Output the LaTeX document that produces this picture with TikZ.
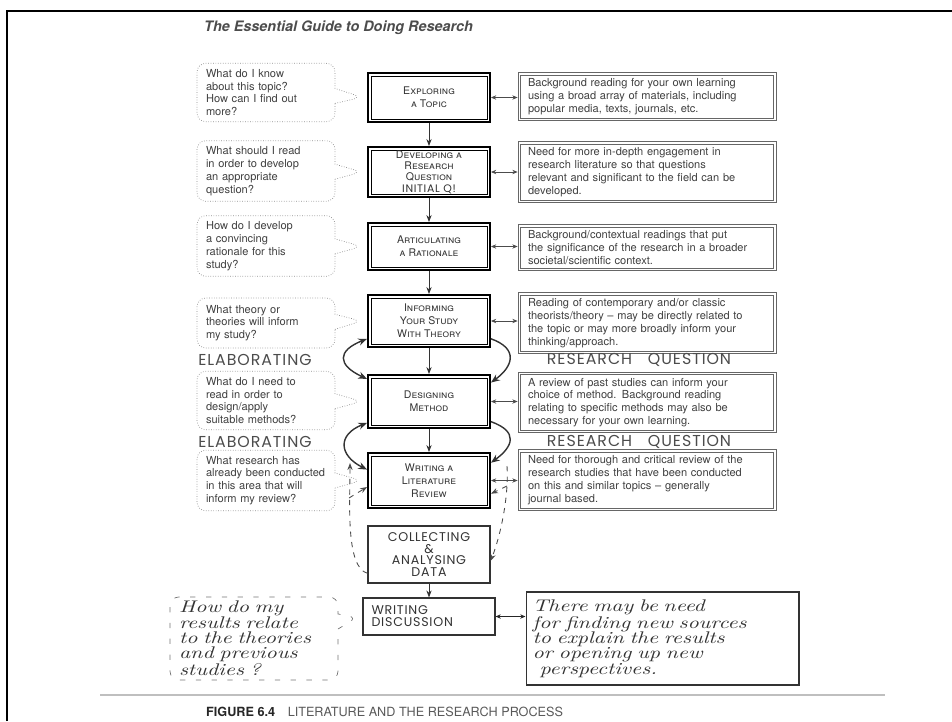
\documentclass[tikz,border=0pt]{standalone}
\usepackage{fontspec}
\setmainfont{TeX Gyre Heros}
\newfontfamily\handcaps{Poppins}[LetterSpace=6]
\newfontfamily\handcurs{lmroman10-italic.otf}[FakeStretch=1.3]
\usetikzlibrary{arrows.meta,positioning,shapes.callouts}

\tikzset{
  stage/.style={draw, line width=1.1pt, minimum width=2.44cm, align=center, inner sep=2pt,
    font=\fontsize{6}{7.4}\selectfont\scshape, text=black!80,
    path picture={\draw[line width=0.4pt] ([shift={(1.7pt,1.7pt)}]path picture bounding box.south west) rectangle ([shift={(-1.7pt,-1.7pt)}]path picture bounding box.north east);}},
  note/.style={draw=black!60, line width=0.5pt, minimum width=5.16cm, text width=4.76cm, inner xsep=0.2cm,
    align=left, font=\fontsize{6.3}{7.3}\selectfont, text=black!75,
    path picture={\draw[black!60, line width=0.3pt] ([shift={(1.4pt,1.4pt)}]path picture bounding box.south west) rectangle ([shift={(-1.4pt,-1.4pt)}]path picture bounding box.north east);}},
  ask/.style={rectangle callout, draw=black!45, densely dotted, rounded corners=5pt, minimum width=2.76cm,
    text width=2.4cm, inner xsep=0.18cm, align=left, font=\fontsize{6.3}{7.3}\selectfont, text=black!75,
    callout pointer width=0.3cm, callout pointer shorten=3pt},
  handbox/.style={draw=black!80, line width=0.6pt, font=\handcaps\fontsize{7.2}{6.8}\selectfont, text=black!80},
  hand/.style={font=\handcaps\fontsize{9}{10}\selectfont, text=black!70},
  curs/.style={font=\handcurs\fontsize{9.6}{8.7}\selectfont, text=black!80},
  flow/.style={-{Stealth[length=4pt,width=3pt]}, line width=0.5pt, black!80},
  link/.style={{Stealth[length=3pt,width=2.5pt]}-{Stealth[length=3pt,width=2.5pt]}, line width=0.4pt, black!70},
  backarc/.style={line width=0.8pt, black!80, >={Stealth[length=5pt,width=4pt]}},
  dashback/.style={dashed, line width=0.5pt, black!70, >={Stealth[length=4pt,width=3pt]}}
}

\begin{document}
\begin{tikzpicture}[x=0.02cm,y=-0.02cm]
\useasboundingbox (0,0) rectangle (952,721);
\draw[line width=1.7pt] (7,721) -- (7,11) -- (952,11);

\node[anchor=west, font=\fontsize{8.2}{9}\selectfont\bfseries\itshape, text=black!70] (title) at (198,28) {The Essential Guide to Doing Research};

\node[stage, minimum height=0.98cm] (b1) at (429,97.5) {Exploring\\a Topic};
\node[stage, minimum height=1.0cm, font=\fontsize{6}{6.5}\selectfont\scshape, inner ysep=1pt] (b2) at (429,172) {Developing a\\Research\\Question\\{\handcaps\fontsize{6.2}{6.5}\selectfont INITIAL Q!}};
\node[stage, minimum height=0.94cm] (b3) at (429,246.5) {Articulating\\a Rationale};
\node[stage, minimum height=1.04cm] (b4) at (429,321) {Informing\\Your Study\\With Theory};
\node[stage, minimum height=1.06cm] (b5) at (429,401.5) {Designing\\Method};
\node[stage, minimum height=1.1cm] (b6) at (429,480.5) {Writing a\\Literature\\Review};

\foreach \i/\j in {1/2,2/3,3/4,4/5,5/6}{
\draw[flow] (b\i) -- (b\j);
}

\node[note, minimum height=0.86cm] (r1) at (647,96.5) {Background reading for your own learning\\using a broad array of materials, including\\popular media, texts, journals, etc.};
\node[note, minimum height=1.0cm] (r2) at (647,172) {Need for more in-depth engagement in\\research literature so that questions\\relevant and significant to the field can be\\developed.};
\node[note, minimum height=0.82cm] (r3) at (647,247.5) {Background/contextual readings that put\\the significance of the research in a broader\\societal/scientific context.};
\node[note, minimum height=1.0cm] (r4) at (647,323) {Reading of contemporary and/or classic\\theorists/theory -- may be directly related to\\the topic or may more broadly inform your\\thinking/approach.};
\node[note, minimum height=1.02cm] (r5) at (647,402.5) {A review of past studies can inform your\\choice of method. Background reading\\relating to specific methods may also be\\necessary for your own learning.};
\node[note, minimum height=1.08cm] (r6) at (647,480) {Need for thorough and critical review of the\\research studies that have been conducted\\on this and similar topics -- generally\\journal based.};

\foreach \i in {1,...,6}{
\draw[link] (b\i.east) -- (b\i.east -| r\i.west);
}

\node[ask, minimum height=1.1cm, callout absolute pointer={(b1.west)}] (q1) at (266,92.5) {What do I know\\about this topic?\\How can I find out\\more?};
\node[ask, minimum height=1.04cm, callout absolute pointer={(b2.west)}] (q2) at (266,171) {What should I read\\in order to develop\\an appropriate\\question?};
\node[ask, minimum height=1.16cm, callout absolute pointer={(b3.west)}] (q3) at (266,246) {How do I develop\\a convincing\\rationale for this\\study?};
\node[ask, minimum height=1.0cm, callout absolute pointer={(b4.west)}] (q4) at (266,323) {What theory or\\theories will inform\\my study?};
\node[ask, minimum height=1.1cm, callout absolute pointer={(b5.west)}] (q5) at (266,400.5) {What do I need to\\read in order to\\design/apply\\suitable methods?};
\node[ask, minimum height=1.1cm, callout absolute pointer={(b6.west)}] (q6) at (266,480.5) {What research has\\already been conducted\\in this area that will\\inform my review?};

\node[hand] (el1) at (255,360) {ELABORATING};
\node[hand] (rq1) at (639,360) {RESEARCH\quad QUESTION};
\node[hand] (el2) at (255,442) {ELABORATING};
\node[hand] (rq2) at (639,442) {RESEARCH\quad QUESTION};

\draw[backarc,<->] (b4.196) .. controls +(-30,12) and +(-30,-14) .. (b5.160);
\draw[backarc,->] (b4.344) .. controls +(28,10) and +(22,-16) .. (b5.17);
\draw[backarc,<->] (b5.199) .. controls +(-30,12) and +(-28,-14) .. (b6.170);
\draw[backarc,->] (b5.342) .. controls +(28,10) and +(22,-16) .. (b6.16);

\node[handbox, minimum width=2.44cm, minimum height=1.14cm, align=center] (coll) at (429,554.5) {COLLECTING\\\&\\ANALYSING\\DATA};
\node[handbox, minimum width=2.64cm, minimum height=0.74cm, align=left, text width=2.3cm] (disc) at (429,616.5) {WRITING\\DISCUSSION};
\draw[flow] (coll) -- (disc);

\coordinate (up6) at (350,463);
\coordinate (dj) at (349,498);
\coordinate (rd) at (507,466);
\coordinate (rj) at (507,486);
\draw[dashback,->] (coll.197) .. controls +(-22,-6) and +(0,40) .. (up6);
\draw[dashback,->] (dj) -- (b6.186);
\draw[dashback,->] (rd) .. controls +(2,30) and +(10,-25) .. (coll.354);
\draw[dashback,->] (rj) -- (b6.348);

\node[handbox, curs, minimum width=5.46cm, text width=5.2cm, minimum height=1.86cm, align=left] (rh) at (662.5,638.5) {There may be need\\for finding new sources\\to explain the results\\or opening up new\\\hspace*{4pt}perspectives.};
\draw[link, line width=0.6pt, black!85] (disc.east) -- (disc.east -| rh.west);

\node[ask, curs, loosely dashed, draw=black!55, minimum width=3.3cm, text width=3.0cm, inner ysep=1pt, minimum height=1.66cm, callout absolute pointer={(disc.west)}] (q7) at (254,638.5) {How do my\\results relate\\to the theories\\and previous\\studies ?};

\draw[black!25, line width=0.8pt] (100,695) -- (885,695);
\node[anchor=west, font=\fontsize{7.2}{8}\selectfont, text=black!65] (cap) at (200,712) {\textbf{\color{black!85}FIGURE 6.4}\quad LITERATURE AND THE RESEARCH PROCESS};
\end{tikzpicture}
\end{document}
